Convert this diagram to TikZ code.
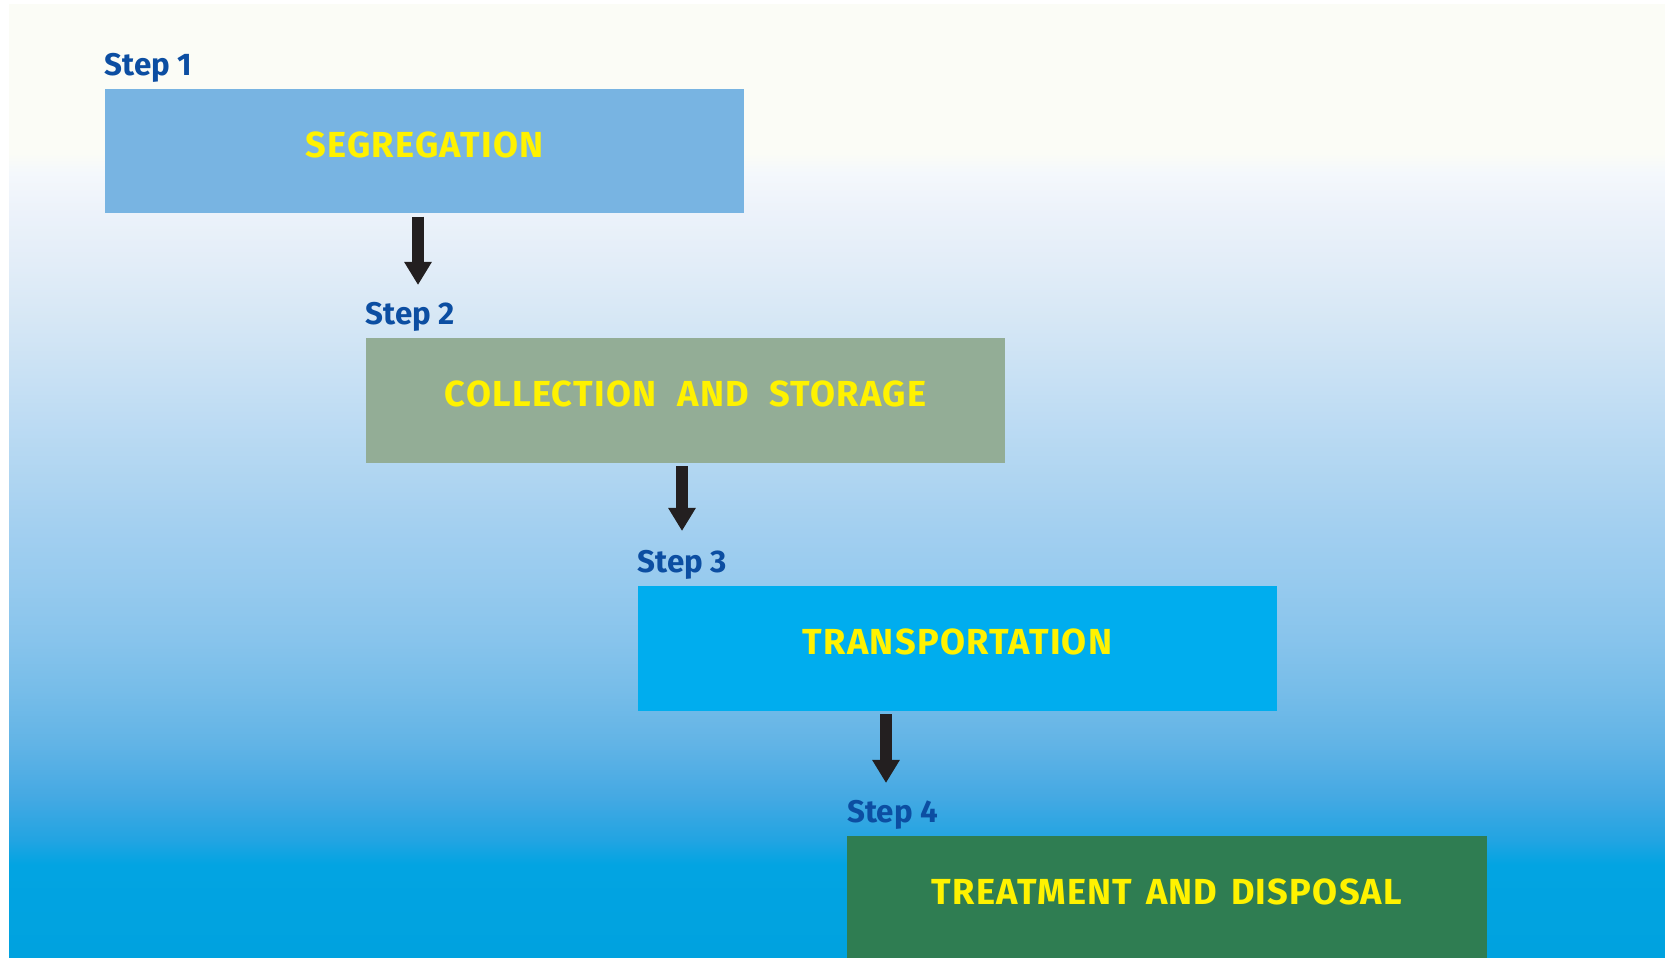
\documentclass[tikz,border=0pt]{standalone}
\usepackage{fontspec}
\setmainfont{Fira Sans}
\newfontfamily\boxfont{Fira Sans}[LetterSpace=3.5]
\usetikzlibrary{arrows.meta}
\definecolor{skyA}{HTML}{FBFCF6}
\definecolor{skyB}{HTML}{F4F8FC}
\definecolor{skyC}{HTML}{ECF2FA}
\definecolor{skyD}{HTML}{E2EDF8}
\definecolor{skyE}{HTML}{D6E7F5}
\definecolor{skyF}{HTML}{C9E1F4}
\definecolor{skyG}{HTML}{BCDBF3}
\definecolor{skyH}{HTML}{AFD5F1}
\definecolor{skyI}{HTML}{A2CFF0}
\definecolor{skyJ}{HTML}{96CAEE}
\definecolor{skyK}{HTML}{88C4EC}
\definecolor{skyL}{HTML}{77BDE9}
\definecolor{skyM}{HTML}{62B4E6}
\definecolor{skyN}{HTML}{45A9E3}
\definecolor{skyO}{HTML}{22A4E2}
\definecolor{skyP}{HTML}{02A4E2}
\definecolor{skyQ}{HTML}{00A2DF}
\definecolor{segblue}{HTML}{78B4E2}
\definecolor{colgreen}{HTML}{93AD96}
\definecolor{trancyan}{HTML}{00ADEE}
\definecolor{treatgreen}{HTML}{2F7D52}
\definecolor{boxyellow}{HTML}{FFF200}
\definecolor{stepblue}{HTML}{0C4EA2}
\definecolor{arrowdark}{HTML}{231F20}
\pgfdeclareverticalshading{skyfade}{100bp}{color(0bp)=(skyQ); color(25bp)=(skyQ);
 color(29.9bp)=(skyP); color(31.2bp)=(skyO); color(33.5bp)=(skyN); color(36.3bp)=(skyM);
 color(39.1bp)=(skyL); color(41.8bp)=(skyK); color(44.6bp)=(skyJ); color(47.4bp)=(skyI);
 color(50.2bp)=(skyH); color(53bp)=(skyG); color(55.7bp)=(skyF); color(58.5bp)=(skyE);
 color(61.4bp)=(skyD); color(64.1bp)=(skyC); color(66.2bp)=(skyB); color(67.2bp)=(skyA);
 color(75bp)=(skyA); color(100bp)=(skyA)}
\tikzset{
 stepbox/.style={minimum width=6.39cm,minimum height=1.24cm,inner sep=0pt,text=boxyellow,
 font=\boxfont\bfseries\fontsize{10.3}{12}\selectfont,text height=0.25cm,text depth=0.12cm},
 steplabel/.style={anchor=base west,inner sep=0pt,text=stepblue,
 font=\bfseries\fontsize{8.9}{10}\selectfont},
 flow/.style={line width=0.11cm,draw=arrowdark,-{Triangle[width=0.26cm,length=0.23cm]},shorten <=0.03cm}
}
\begin{document}
\begin{tikzpicture}[x=0.01cm,y=-0.01cm]
 \clip (0,0) rectangle (1665,958);
 \fill[white] (0,0) rectangle (1665,958);
 \shade[shading=skyfade] (9,5) rectangle (1665,958);
 % the four boxes
 \node[stepbox,fill=segblue] (b1) at (424.5,151) {SEGREGATION};
 \node[stepbox,fill=colgreen] (b2) at (685.5,400.5) {COLLECTION\hspace{0.3em} AND\hspace{0.3em} STORAGE};
 \node[stepbox,fill=trancyan] (b3) at (957.5,648.5) {TRANSPORTATION};
 \node[stepbox,fill=treatgreen] (b4) at (1167,898) {TREATMENT\hspace{0.1em} AND\hspace{0.1em} DISPOSAL};
 \foreach \i in {1,...,4}
 \node[steplabel] (s\i) at ([yshift=0.13cm]b\i.north west) {Step \i};
 % arrows
 \coordinate (t1) at (418,285);
 \coordinate (t2) at (682,531);
 \coordinate (t3) at (886,783);
 \foreach \i in {1,2,3}
 \draw[flow] (b\i.south -| t\i) -- (t\i);
\end{tikzpicture}
\end{document}
